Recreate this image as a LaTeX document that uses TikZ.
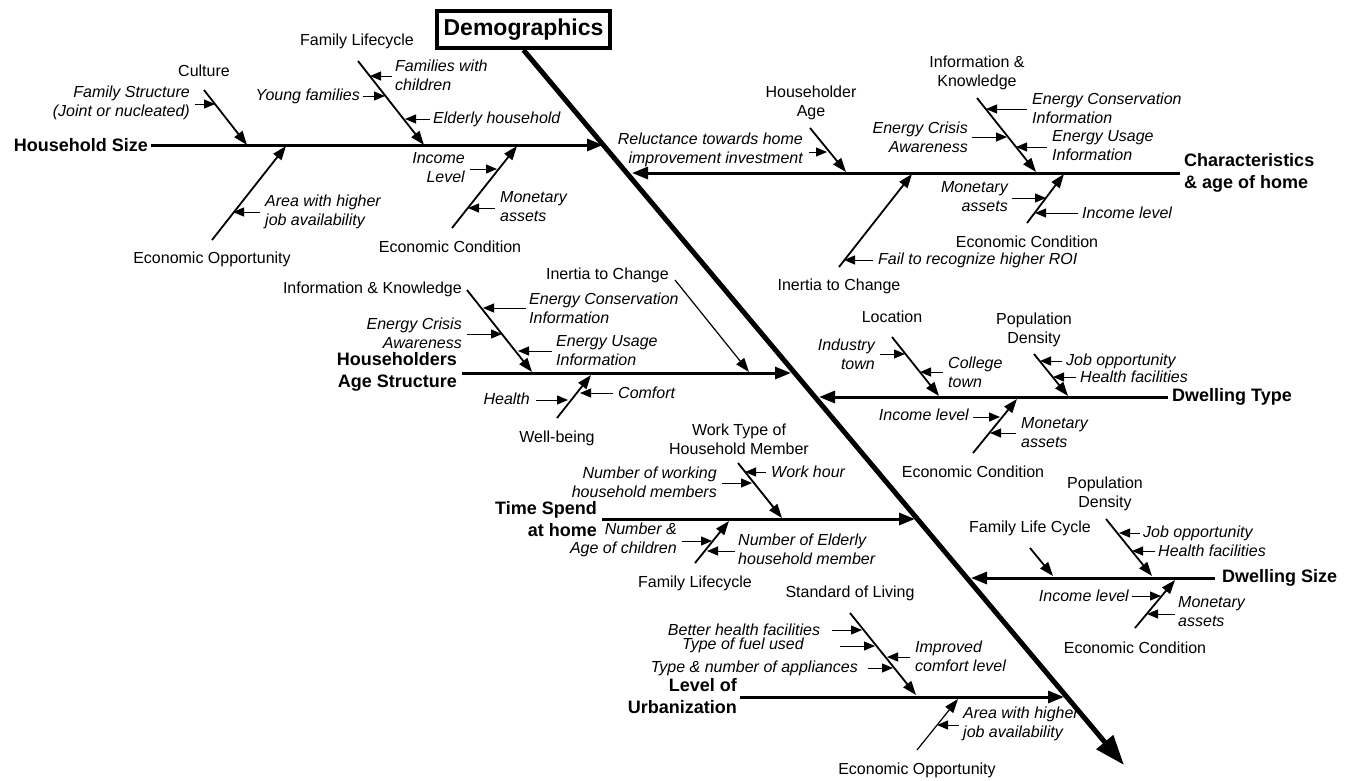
\documentclass[tikz,border=0pt]{standalone}
\usepackage{fontspec}
\setmainfont{Liberation Sans}
\usetikzlibrary{arrows.meta}
\begin{document}
\begin{tikzpicture}[x=1pt,y=-1pt,
  lbl/.style={font=\fontsize{16}{19}\selectfont, inner sep=0pt},
  itl/.style={font=\fontsize{16}{19}\selectfont\itshape, inner sep=0pt},
  cat/.style={font=\fontsize{18}{22}\selectfont\bfseries, inner sep=0pt},
  headbox/.style={draw, line width=4pt, inner sep=0pt, minimum width=173pt, minimum height=37pt,
    font=\fontsize{23}{26}\selectfont\bfseries},
  spine/.style={line width=5pt, -{Triangle[length=30pt,width=21pt]}},
  bone/.style={line width=3pt, -{Triangle[length=16pt,width=12pt]}},
  rib/.style={line width=1.8pt, -{Triangle[length=14pt,width=10pt]}},
  thinrib/.style={line width=1.2pt, -{Triangle[length=14pt,width=10pt]}},
  leaf/.style={line width=1pt, -{Triangle[length=11pt,width=9pt]}}]
\useasboundingbox (0,0) rectangle (1360,780);
\fill[white] (0,0) rectangle (1360,780);

% ---------- head ----------
\node[headbox] (demo) at (523.5,29.5) {Demographics};
\coordinate (spEnd) at (1124,765);

% ---------- Household Size ----------
\node[cat, anchor=east] (hs) at (148,145) {Household Size};
\coordinate (hs0) at (151,145); \coordinate (hs1) at (603,145);
\node[lbl] (hsCul) at (204,71) {Culture};
\coordinate (hsCul0) at (204,90); \coordinate (hsCul1) at (247,145);
\node[itl, align=right, anchor=east] (hsFs) at (190,103) {Family Structure\\(Joint or nucleated)};
\coordinate (hsFs0) at (195,104); \coordinate (hsFs1) at (215,104);
\node[lbl] (hsFl) at (357,41) {Family Lifecycle};
\coordinate (hsFl0) at (358,61); \coordinate (hsFl1) at (424,145);
\node[itl, align=left, anchor=west] (hsFw) at (395,75) {Families with\\children};
\coordinate (hsFw0) at (392,76); \coordinate (hsFw1) at (370,76);
\node[itl, anchor=east] (hsYf) at (360,96) {Young families};
\coordinate (hsYf0) at (363,96); \coordinate (hsYf1) at (385,96);
\node[itl, anchor=west] (hsEh) at (433,119) {Elderly household};
\coordinate (hsEh0) at (430,119); \coordinate (hsEh1) at (405,119);
\node[lbl] (hsEo) at (212,259) {Economic Opportunity};
\coordinate (hsEo0) at (212,240); \coordinate (hsEo1) at (286,146);
\node[itl, align=left, anchor=west] (hsAj) at (265,212) {Area with higher\\job availability};
\coordinate (hsAj0) at (260,212); \coordinate (hsAj1) at (233,212);
\node[lbl] (hsEc) at (450,247) {Economic Condition};
\coordinate (hsEc0) at (452,228); \coordinate (hsEc1) at (517,146);
\node[itl, align=right, anchor=east] (hsIl) at (465,168) {Income\\Level};
\coordinate (hsIl0) at (470,169); \coordinate (hsIl1) at (497,169);
\node[itl, align=left, anchor=west] (hsMa) at (500,207) {Monetary\\assets};
\coordinate (hsMa0) at (495,208); \coordinate (hsMa1) at (468,208);

% ---------- Characteristics & age of home ----------
\node[cat, align=left, anchor=west] (ch) at (1184,173) {Characteristics\\\& age of home};
\coordinate (ch0) at (1180,173); \coordinate (ch1) at (632,173);
\node[lbl, align=center] (chHa) at (811,103) {Householder\\Age};
\coordinate (chHa0) at (810,128); \coordinate (chHa1) at (846,172);
\node[itl, align=right, anchor=east] (chRe) at (803,150) {Reluctance towards home\\improvement investment};
\coordinate (chRe0) at (809,152); \coordinate (chRe1) at (827,152);
\node[lbl, align=center] (chIk) at (977,73) {Information \&\\Knowledge};
\coordinate (chIk0) at (977,98); \coordinate (chIk1) at (1036,172);
\node[itl, align=left, anchor=west] (chEc) at (1032,108) {Energy Conservation\\Information};
\coordinate (chEc0) at (1027,109); \coordinate (chEc1) at (986,109);
\node[itl, align=right, anchor=east] (chCr) at (968,137) {Energy Crisis\\Awareness};
\coordinate (chCr0) at (972,137); \coordinate (chCr1) at (1007,137);
\node[itl, align=left, anchor=west] (chEu) at (1052,146) {Energy Usage\\Information};
\coordinate (chEu0) at (1047,147); \coordinate (chEu1) at (1016,147);
\node[lbl] (chIn) at (839,286) {Inertia to Change};
\coordinate (chIn0) at (839,267); \coordinate (chIn1) at (912,174);
\node[itl, anchor=west] (chRoi) at (878,260) {Fail to recognize higher ROI};
\coordinate (chRoi0) at (873,260); \coordinate (chRoi1) at (844,260);
\node[lbl] (chEcn) at (1027,242) {Economic Condition};
\coordinate (chEcn0) at (1027,223); \coordinate (chEcn1) at (1064,174);
\node[itl, align=right, anchor=east] (chMa) at (1008,197) {Monetary\\assets};
\coordinate (chMa0) at (1012,198); \coordinate (chMa1) at (1046,198);
\node[itl, anchor=west] (chIl) at (1082,213) {Income level};
\coordinate (chIl0) at (1078,213); \coordinate (chIl1) at (1035,213);

% ---------- Householders Age Structure ----------
\node[cat, align=right, anchor=east] (ha) at (457,372) {Householders\\Age Structure};
\coordinate (ha0) at (462,373); \coordinate (ha1) at (791,373);
\node[lbl, anchor=east] (haIk) at (462,289) {Information \& Knowledge};
\coordinate (haIk0) at (467,290); \coordinate (haIk1) at (532,372);
\node[itl, align=left, anchor=west] (haEc) at (529,308) {Energy Conservation\\Information};
\coordinate (haEc0) at (526,308); \coordinate (haEc1) at (483,308);
\node[itl, align=right, anchor=east] (haCr) at (462,333) {Energy Crisis\\Awareness};
\coordinate (haCr0) at (467,334); \coordinate (haCr1) at (502,334);
\node[itl, align=left, anchor=west] (haEu) at (556,351) {Energy Usage\\Information};
\coordinate (haEu0) at (552,351); \coordinate (haEu1) at (518,351);
\node[lbl, anchor=east] (haIn) at (669,275) {Inertia to Change};
\coordinate (haIn0) at (675,280); \coordinate (haIn1) at (749,372);
\node[lbl] (haWb) at (557,438) {Well-being};
\coordinate (haWb0) at (557,418); \coordinate (haWb1) at (591,375);
\node[itl, anchor=east] (haHe) at (530,399) {Health};
\coordinate (haHe0) at (536,400); \coordinate (haHe1) at (568,400);
\node[itl, anchor=west] (haCo) at (618,393) {Comfort};
\coordinate (haCo0) at (613,393); \coordinate (haCo1) at (580,393);

% ---------- Dwelling Type ----------
\node[cat, anchor=west] (dt) at (1172,397) {Dwelling Type};
\coordinate (dt0) at (1168,397); \coordinate (dt1) at (819,397);
\node[lbl] (dtLo) at (892,317) {Location};
\coordinate (dtLo0) at (892,337); \coordinate (dtLo1) at (939,396);
\node[itl, align=right, anchor=east] (dtIt) at (875,354) {Industry\\town};
\coordinate (dtIt0) at (880,354); \coordinate (dtIt1) at (905,354);
\node[itl, align=left, anchor=west] (dtCt) at (948,372) {College\\town};
\coordinate (dtCt0) at (943,372); \coordinate (dtCt1) at (920,372);
\node[lbl, align=center] (dtPd) at (1034,330) {Population\\Density};
\coordinate (dtPd0) at (1034,354); \coordinate (dtPd1) at (1068,396);
\node[itl, anchor=west] (dtJo) at (1066,361) {Job opportunity};
\coordinate (dtJo0) at (1062,361); \coordinate (dtJo1) at (1040,361);
\node[itl, anchor=west] (dtHf) at (1080,377) {Health facilities};
\coordinate (dtHf0) at (1076,377); \coordinate (dtHf1) at (1053,377);
\node[lbl] (dtEc) at (973,472) {Economic Condition};
\coordinate (dtEc0) at (973,453); \coordinate (dtEc1) at (1017,399);
\node[itl, anchor=east] (dtIl) at (969,415) {Income level};
\coordinate (dtIl0) at (973,417); \coordinate (dtIl1) at (1000,417);
\node[itl, align=left, anchor=west] (dtMa) at (1021,433) {Monetary\\assets};
\coordinate (dtMa0) at (1016,433); \coordinate (dtMa1) at (990,433);

% ---------- Time Spend at home ----------
\node[cat, align=right, anchor=east] (ts) at (597,519) {Time Spend\\at home};
\coordinate (ts0) at (602,519); \coordinate (ts1) at (915,519);
\node[lbl, align=center] (tsWt) at (739,439) {Work Type of\\Household Member};
\coordinate (tsWt0) at (738,463); \coordinate (tsWt1) at (782,518);
\node[itl, anchor=west] (tsWh) at (771,472) {Work hour};
\coordinate (tsWh0) at (766,472); \coordinate (tsWh1) at (745,472);
\node[itl, align=right, anchor=east] (tsNw) at (717,482) {Number of working\\household members};
\coordinate (tsNw0) at (722,483); \coordinate (tsNw1) at (752,483);
\node[lbl] (tsFl) at (695,583) {Family Lifecycle};
\coordinate (tsFl0) at (695,563); \coordinate (tsFl1) at (729,521);
\node[itl, align=right, anchor=east] (tsNa) at (677,540) {Number \&\\Age of children};
\coordinate (tsNa0) at (682,541); \coordinate (tsNa1) at (712,541);
\node[itl, align=left, anchor=west] (tsNe) at (738,549) {Number of Elderly\\household member};
\coordinate (tsNe0) at (735,551); \coordinate (tsNe1) at (707,551);

% ---------- Dwelling Size ----------
\node[cat, anchor=west] (ds) at (1222,578) {Dwelling Size};
\coordinate (ds0) at (1215,578); \coordinate (ds1) at (971,578);
\node[lbl] (dsFc) at (1030,528) {Family Life Cycle};
\coordinate (dsFc0) at (1030,548); \coordinate (dsFc1) at (1053,576);
\node[lbl, align=center] (dsPd) at (1105,494) {Population\\Density};
\coordinate (dsPd0) at (1106,519); \coordinate (dsPd1) at (1152,576);
\node[itl, anchor=west] (dsJo) at (1143,533) {Job opportunity};
\coordinate (dsJo0) at (1140,533); \coordinate (dsJo1) at (1119,533);
\node[itl, anchor=west] (dsHf) at (1158,551) {Health facilities};
\coordinate (dsHf0) at (1155,551); \coordinate (dsHf1) at (1132,551);
\node[lbl] (dsEc) at (1135,648) {Economic Condition};
\coordinate (dsEc0) at (1135,628); \coordinate (dsEc1) at (1175,580);
\node[itl, anchor=east] (dsIl) at (1129,596) {Income level};
\coordinate (dsIl0) at (1132,596); \coordinate (dsIl1) at (1161,596);
\node[itl, align=left, anchor=west] (dsMa) at (1178,612) {Monetary\\assets};
\coordinate (dsMa0) at (1175,614); \coordinate (dsMa1) at (1147,614);

% ---------- Level of Urbanization ----------
\node[cat, align=right, anchor=east] (lu) at (737,696) {Level of\\Urbanization};
\coordinate (lu0) at (740,697); \coordinate (lu1) at (1064,697);
\node[lbl] (luSl) at (850,593) {Standard of Living};
\coordinate (luSl0) at (850,613); \coordinate (luSl1) at (916,695);
\node[itl] (luBh) at (744,630) {Better health facilities};
\coordinate (luBh0) at (832,630); \coordinate (luBh1) at (862,630);
\node[itl] (luTf) at (743,645) {Type of fuel used};
\coordinate (luTf0) at (840,646); \coordinate (luTf1) at (875,646);
\node[itl, anchor=east] (luTa) at (858,668) {Type \& number of appliances};
\coordinate (luTa0) at (868,668); \coordinate (luTa1) at (893,668);
\node[itl, align=left, anchor=west] (luIc) at (915,656) {Improved\\comfort level};
\coordinate (luIc0) at (910,657); \coordinate (luIc1) at (887,657);
\node[lbl] (luEo) at (917,770) {Economic Opportunity};
\coordinate (luEo0) at (917,750); \coordinate (luEo1) at (958,699);
\node[itl, align=left, anchor=west] (luAj) at (963,724) {Area with higher\\job availability};
\coordinate (luAj0) at (959,725); \coordinate (luAj1) at (937,725);

% ---------- bones ----------
\foreach \b in {hs,ch,ha,dt,ts,ds,lu} \draw[bone] (\b0) -- (\b1);
\foreach \r in {hsCul,hsFl,hsEo,hsEc,chHa,chIk,chIn,chEcn,haIk,haWb,dtLo,dtPd,dtEc,tsWt,tsFl,dsFc,dsPd,dsEc,luSl}
  \draw[rib] (\r0) -- (\r1);
\foreach \r in {haIn,luEo} \draw[thinrib] (\r0) -- (\r1);
\foreach \l in {hsFs,hsFw,hsYf,hsEh,hsAj,hsIl,hsMa,chRe,chEc,chCr,chEu,chRoi,chMa,chIl,
  haEc,haCr,haEu,haHe,haCo,dtIt,dtCt,dtJo,dtHf,dtIl,dtMa,tsWh,tsNw,tsNa,tsNe,
  dsJo,dsHf,dsIl,dsMa,luBh,luTf,luTa,luIc,luAj}
  \draw[leaf] (\l0) -- (\l1);

% ---------- spine ----------
\draw[spine] (demo.south) -- (spEnd);
\end{tikzpicture}
\end{document}
